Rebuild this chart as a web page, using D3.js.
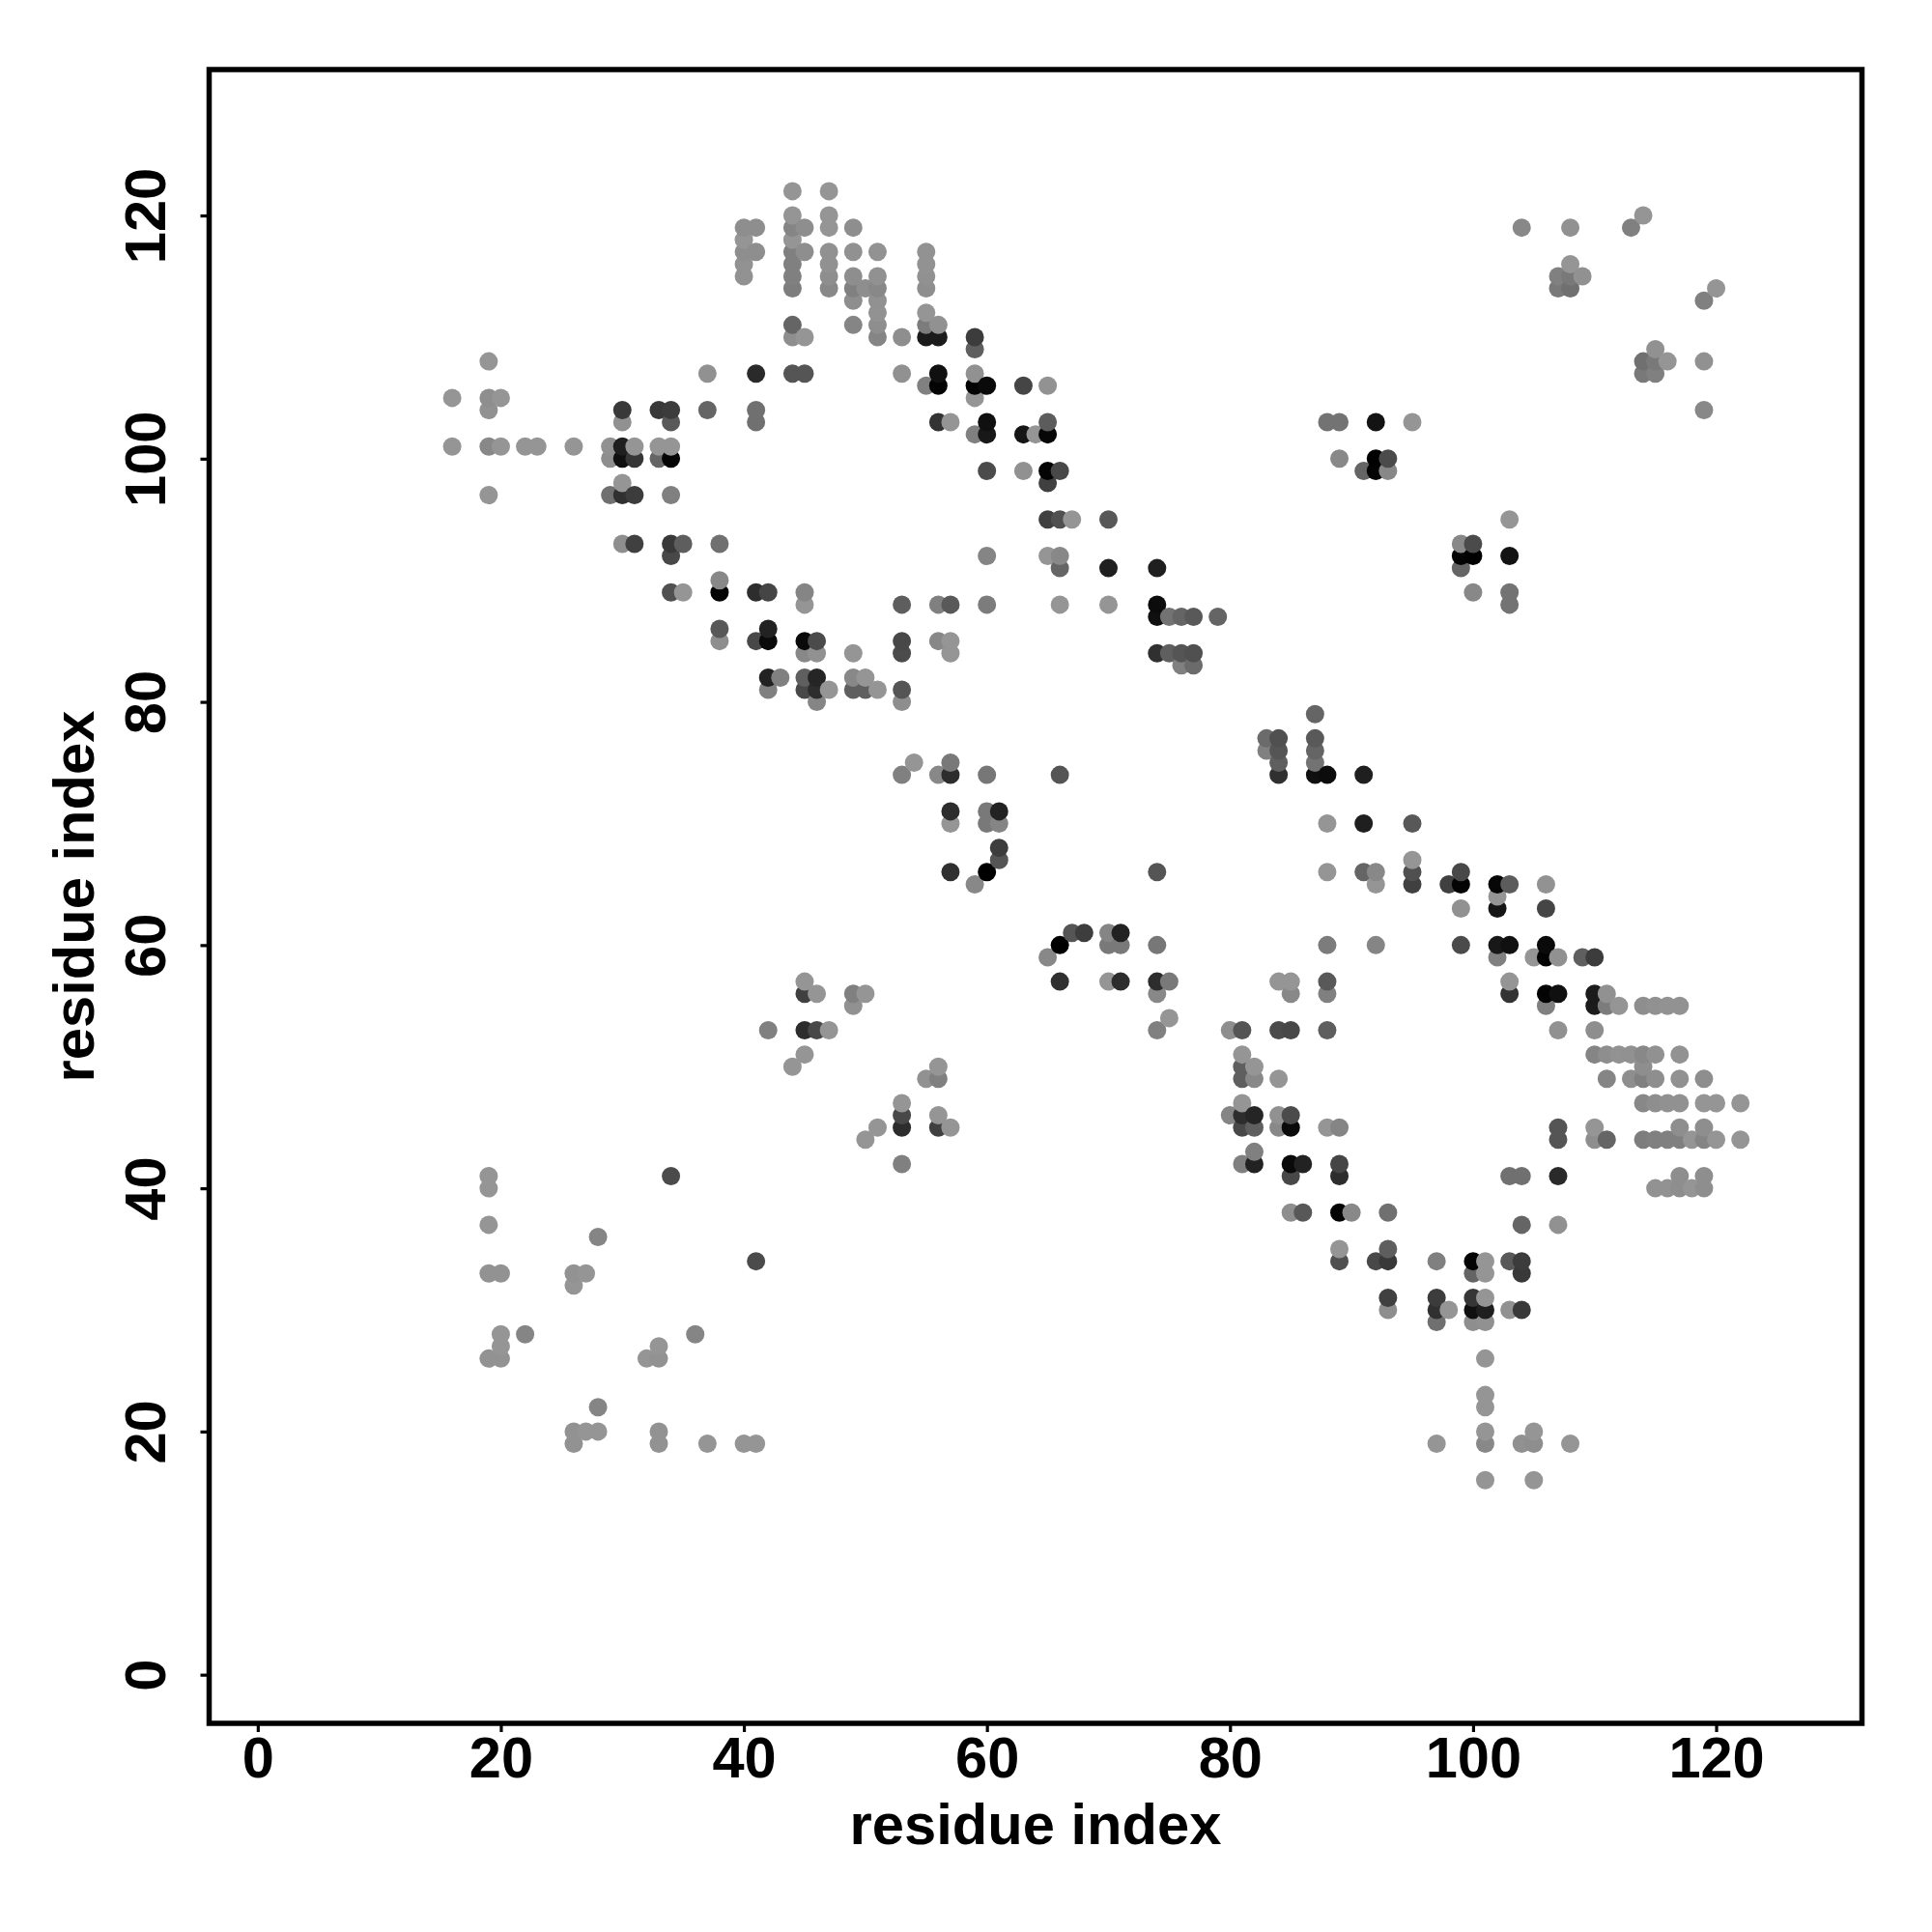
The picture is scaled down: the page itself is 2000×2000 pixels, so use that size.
<!DOCTYPE html>
<html>
<head>
<meta charset="utf-8">
<script src="https://cdn.jsdelivr.net/npm/d3@7"></script>
<style>
html,body{margin:0;padding:0;background:#fff;}
svg{display:block;}
text{font-family:"Liberation Sans",Arial,sans-serif;font-weight:bold;fill:#000;}
</style>
</head>
<body>
<svg id="chart" width="2000" height="2000"></svg>
<script>
// Contact map: upper-triangle rows. rowJ[k] is the residue j of the row,
// rowI[k] its partner residues i (i < j), rowS[k] the contact strength of each.
const rowJ = [122,120,119,118,117,116,115,114,113,112,111,110,109,108,107,106,105,104,103,102,101,100,99,98,97,95,93,92,91,90,89,88,87,86,85,84,83,82,81,80,75,74,71,70,68,67,66,65,57,56,55,53,51,50,41,40,37,36,33,32,28,27,26];
const rowI = [
[44,47],
[44,47,114],
[40,41,44,45,47,49,104,108,113],
[40,44],
[40,41,44,45,47,49,51,55],
[40,44,47,55,108],
[40,44,47,49,51,55,107,108,109],
[44,47,49,50,51,55,107,108],
[49,51],
[51,55],
[44,49,51,55,56],
[44,45,51,53,55,56,59],
[59],
[19],
[37,41,44,45,53,56,59],
[55,56,59,60,63,65],
[16,19,20,59],
[19,30,33,34,37,41],
[30,34,41,56,57,60,65,88,89,92,95],
[59,60,63,64,65],
[16,19,20,22,23,26,29,30,31,33,34],
[29,30,31,33,34,89,92,93],
[60,63,65,66,91,92,93],
[30,65],
[19,29,30,31,34],
[65,66,67,70],
[30,31,34,35,38],
[34,60,65,66],
[66,70,74],
[38],
[34,35,38,41,42,45],
[45,53,56,57,60,66,70,74],
[74,75,76,77,79],
[38,42],
[38,41,42,45,46,53,56,57],
[45,46,49,53,57,74,75,76,77],
[76,77],
[42,43,45,46,49,50],
[42,45,46,47,49,50,51,53],
[46,53],
[54,57],
[53,56,57,60,66],
[57,60,61],
[57,60,61],
[61],
[61],
[57,60],
[59],
[45],
[45,46,49,50],
[49],
[42,45,46,47],
[45],
[44],
[19,34],
[19],
[19],
[28],
[19,20,26,27],
[26],
[20,22],
[20],
[19,20]
];
const rowS = [
[0,0],
[0,0,0],
[5,5,11,5,0,5,9,3,14],
[0,0],
[5,5,14,5,3,3,2,2],
[2,14,3,2,0],
[2,14,5,5,3,3,14,19,3],
[16,9,14,5,9,5,19,25],
[5,3],
[2,0],
[32,11,5,17,3],
[5,0,11,5,82,82,60],
[36],
[0],
[3,72,43,43,3,89,3],
[14,97,98,93,54,2],
[0,5,0,0],
[3,62,62,60,32,25],
[3,40,25,66,0,89,38,23,23,87,0],
[14,84,86,0,95],
[0,9,0,0,0,0,3,79,0,0,0],
[5,89,64,32,97,9,99,50],
[50,3,97,52,32,97,9],
[0,57],
[0,25,68,60,14],
[57,46,0,41],
[5,57,62,37,25],
[52,11,0,9],
[32,79,79],
[9],
[46,0,97,70,54,11],
[0,37,14,40,17,0,0,92],
[89,23,32,40,32],
[41,77],
[5,52,93,93,50,52,9,0],
[9,3,0,50,0,68,36,43,46],
[14,28],
[77,14,36,75,9,0],
[14,52,70,0,36,36,0,43],
[11,5],
[0,19],
[14,9,70,20,43],
[70,19,77],
[0,19,11],
[59],
[43],
[68,100],
[9],
[0],
[57,0,14,0],
[3],
[14,70,52,0],
[0],
[0],
[0,50],
[0],
[0],
[11],
[2,2,2,0],
[0],
[0,11],
[0],
[2,2]
];
const xTicks = [0,20,40,60,80,100,120];
const yTicks = [0,20,40,60,80,100,120];
const axisDomain = [-4,132];
const xTitle = "residue index";
const yTitle = "residue index";

const x = d3.scaleLinear().domain(axisDomain).range([216.5,1927.5]);
const y = d3.scaleLinear().domain(axisDomain).range([1784,72]);
const shade = d3.scaleLinear().domain([0,100]).range(["#959595","#000000"]);

// The map is symmetric: each contact is drawn at (i,j) and (j,i).
const contacts = [];
rowJ.forEach((j,k) => rowI[k].forEach((i,m) => {
  contacts.push({x:i,y:j,s:rowS[k][m]});
  contacts.push({x:j,y:i,s:rowS[k][m]});
}));
contacts.sort((a,b) => d3.ascending(a.x,b.x) || d3.ascending(a.y,b.y));

const svg = d3.select("#chart");
svg.append("rect").attr("width",2000).attr("height",2000).attr("fill","#fff");

svg.append("g").selectAll("circle").data(contacts).join("circle")
  .attr("cx",d=>x(d.x)).attr("cy",d=>y(d.y)).attr("r",9.5)
  .attr("fill",d=>shade(d.s));

const gx = svg.append("g").attr("transform","translate(0,1784)")
  .call(d3.axisBottom(x).tickValues(xTicks).tickFormat(d3.format("d")).tickSize(9).tickPadding(4.5));
const gy = svg.append("g").attr("transform","translate(216.5,0)")
  .call(d3.axisLeft(y).tickValues(yTicks).tickFormat(d3.format("d")).tickSize(9));
[gx,gy].forEach(g=>{
  g.select(".domain").remove();
  g.selectAll("line").attr("stroke","#000").attr("stroke-width",3.2);
  g.selectAll("text").style("font-size","59.5px").attr("fill","#000");
});
gy.selectAll("text").attr("x",null).attr("dy",null)
  .attr("text-anchor","middle").attr("transform","translate(-46,0) rotate(-90)");

svg.append("rect").attr("x",216.5).attr("y",72).attr("width",1711).attr("height",1712)
  .attr("fill","none").attr("stroke","#000").attr("stroke-width",5.5);

svg.append("text").attr("x",1072).attr("y",1909).attr("text-anchor","middle")
  .style("font-size","59.7px").text(xTitle);
svg.append("text").attr("transform","translate(97,928) rotate(-90)").attr("text-anchor","middle")
  .style("font-size","59.7px").text(yTitle);
</script>
</body>
</html>
